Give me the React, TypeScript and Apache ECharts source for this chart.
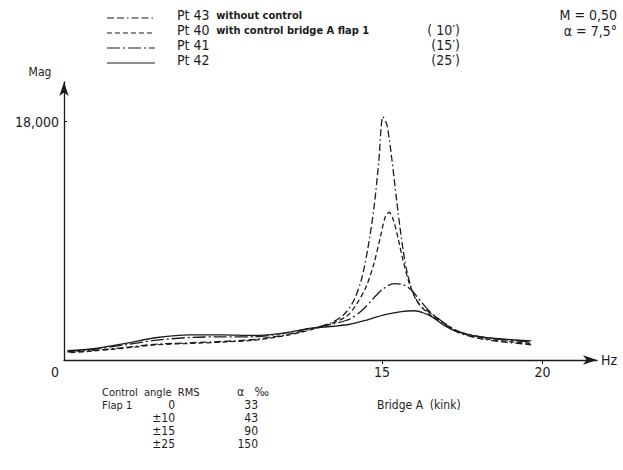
import React, { useEffect, useRef } from "react";
import * as echarts from "echarts";

const FONT = '"DejaVu Sans Condensed", "DejaVu Sans", sans-serif';
const INK = "#1c1c1c";

// Pt 43 without control
const pt43Hz = [5.2, 6.0, 7.0, 8.0, 9.0, 10.0, 11.0, 12.0, 12.8, 13.4, 13.8, 14.1, 14.35, 14.55, 14.75, 14.9, 15.03, 15.15, 15.3, 15.45, 15.6, 15.75, 15.95, 16.2, 16.6, 16.95, 17.4, 18.2, 19.65];
const pt43Mag = [600, 720, 950, 1200, 1300, 1400, 1550, 1900, 2350, 2800, 3400, 4400, 6000, 8300, 11500, 15000, 18370, 17800, 15300, 12200, 9300, 7000, 5200, 4100, 3400, 2700, 2050, 1550, 1150];

// Pt 40 with control bridge A flap 1 (10')
const pt40Hz = [5.3, 6.0, 7.0, 8.0, 9.0, 10.0, 11.0, 12.0, 12.8, 13.4, 13.9, 14.2, 14.5, 14.75, 14.95, 15.1, 15.22, 15.35, 15.5, 15.65, 15.85, 16.1, 16.45, 16.95, 17.4, 18.2, 19.65];
const pt40Mag = [550, 680, 900, 1150, 1250, 1350, 1500, 1850, 2300, 2750, 3300, 4200, 5500, 7300, 9300, 10800, 11160, 10600, 9200, 7600, 5800, 4400, 3500, 2750, 2100, 1600, 1250];

// Pt 41 (15')
const pt41Hz = [5.2, 6.0, 7.0, 8.0, 9.0, 10.0, 11.0, 12.0, 12.8, 13.5, 14.0, 14.4, 14.75, 15.05, 15.38, 15.7, 15.95, 16.22, 16.53, 16.94, 17.4, 18.2, 19.65];
const pt41Mag = [650, 800, 1150, 1500, 1700, 1750, 1750, 2050, 2400, 2750, 3100, 3800, 4700, 5400, 5770, 5650, 5200, 4400, 3560, 2800, 2150, 1700, 1350];

// Pt 42 (25')
const pt42Hz = [5.2, 6.0, 7.0, 8.0, 9.0, 10.0, 11.0, 12.0, 12.8, 13.5, 14.0, 14.5, 15.06, 15.6, 16.0, 16.3, 16.6, 16.95, 17.4, 18.2, 19.65];
const pt42Mag = [700, 850, 1250, 1700, 1900, 1900, 1850, 2050, 2400, 2550, 2700, 3000, 3400, 3650, 3720, 3550, 3200, 2600, 2100, 1700, 1450];

const xTicks = [15, 20];
const yTicks = [18000];

const seriesNames = ["Pt 43", "Pt 40", "Pt 41", "Pt 42"];
const seriesDescr = ["without control", "with control bridge A flap 1", "", ""];
const seriesAngle = ["", "( 10′)", "(15′)", "(25′)"];
const dashes: (number[] | "solid")[] = [[7, 3, 7, 3, 1.5, 3], [5, 3], [13, 3, 2, 3], "solid"];

const tableHeader = "Control  angle  RMS";
const tableAngles = ["0", "±10", "±15", "±25"];
const tableAlpha = ["33", "43", "90", "150"];

function pairs(xs: number[], ys: number[]) {
  return xs.map((x, i) => [x, ys[i]]);
}

function txt(x: number, y: number, text: string, size: number, align = "left", extra: any = {}) {
  return {
    type: "text",
    x,
    y,
    style: { text, align, verticalAlign: "middle", fontFamily: FONT, fontSize: size, lineHeight: size, fill: INK, ...extra },
  };
}

export default function App() {
  const ref = useRef<HTMLDivElement>(null);
  useEffect(() => {
    if (!ref.current) return;
    const chart = echarts.init(ref.current, undefined, { renderer: "svg" });
    const data = [pairs(pt43Hz, pt43Mag), pairs(pt40Hz, pt40Mag), pairs(pt41Hz, pt41Mag), pairs(pt42Hz, pt42Mag)];

    const graphics: any[] = [];
    const legendY = [15, 30, 45, 60];
    seriesNames.forEach((n, i) => {
      const d = dashes[i];
      graphics.push({
        type: "line",
        shape: { x1: 107, y1: legendY[i] + 3, x2: 155, y2: legendY[i] + 3 },
        style: { stroke: INK, lineWidth: 1.2, lineDash: d === "solid" ? null : d },
      });
      graphics.push({
        type: "text",
        x: 177,
        y: legendY[i],
        style: {
          text: seriesDescr[i] ? `{a|${n}}  {b|${seriesDescr[i]}}` : `{a|${n}}`,
          verticalAlign: "middle",
          rich: {
            a: { fontFamily: FONT, fontSize: 14, lineHeight: 13, fill: INK },
            b: { fontFamily: FONT, fontSize: 11, lineHeight: 13, fontWeight: "bold", fill: INK },
          },
        },
      });
      if (seriesAngle[i]) graphics.push(txt(460, legendY[i], seriesAngle[i], 14, "right", { lineHeight: 13 }));
    });
    graphics.push(
      txt(617, 15, "M = 0,50", 14, "right"),
      txt(617, 31, "α = 7,5°", 14, "right"),
      txt(40, 72, "Mag", 12, "center"),
      txt(55, 372, "0", 14, "center"),
      txt(377, 405, "Bridge A  (kink)", 12),
      txt(102, 392, tableHeader, 11),
      txt(237, 392, "α   ‰", 12),
      txt(102, 405, "Flap 1", 11)
    );
    tableAngles.forEach((a, i) => {
      const y = 405 + i * 13;
      graphics.push(txt(175, y, a, 12, "right"));
      graphics.push(txt(258, y, tableAlpha[i], 12, "right"));
    });

    chart.setOption({
      animation: false,
      backgroundColor: "#ffffff",
      grid: { left: 64, right: 26, top: 82, bottom: 110, containLabel: false },
      xAxis: {
        type: "value",
        min: 5.09,
        max: 21.7,
        name: "Hz",
        nameLocation: "end",
        nameGap: 4,
        nameTextStyle: { fontFamily: FONT, fontSize: 14, color: INK, verticalAlign: "middle" },
        axisLine: { show: true, symbol: ["none", "arrow"], symbolSize: [7, 14], lineStyle: { color: INK, width: 1.3 } },
        axisTick: { show: true, customValues: xTicks, length: 4, lineStyle: { color: INK } },
        axisLabel: { customValues: xTicks, fontFamily: FONT, fontSize: 14, color: INK, margin: 5 },
        splitLine: { show: false },
      },
      yAxis: {
        type: "value",
        min: 0,
        max: 21000,
        axisLine: { show: true, symbol: ["none", "arrow"], symbolSize: [7, 14], lineStyle: { color: INK, width: 1.3 } },
        axisTick: { show: true, customValues: yTicks, length: 3, inside: true, lineStyle: { color: INK } },
        axisLabel: {
          customValues: yTicks,
          formatter: (v: number) => v.toLocaleString("en-US"),
          fontFamily: FONT,
          fontSize: 14,
          color: INK,
          margin: 5,
        },
        splitLine: { show: false },
      },
      graphic: graphics,
      series: data.map((d, i) => ({
        name: seriesNames[i],
        type: "line",
        data: d,
        smooth: 0.3,
        showSymbol: false,
        lineStyle: { color: INK, width: 1.3, type: dashes[i] },
      })),
    });
    return () => chart.dispose();
  }, []);
  return <div ref={ref} style={{ position: "absolute", left: 0, top: 0, width: 623, height: 470 }} />;
}
